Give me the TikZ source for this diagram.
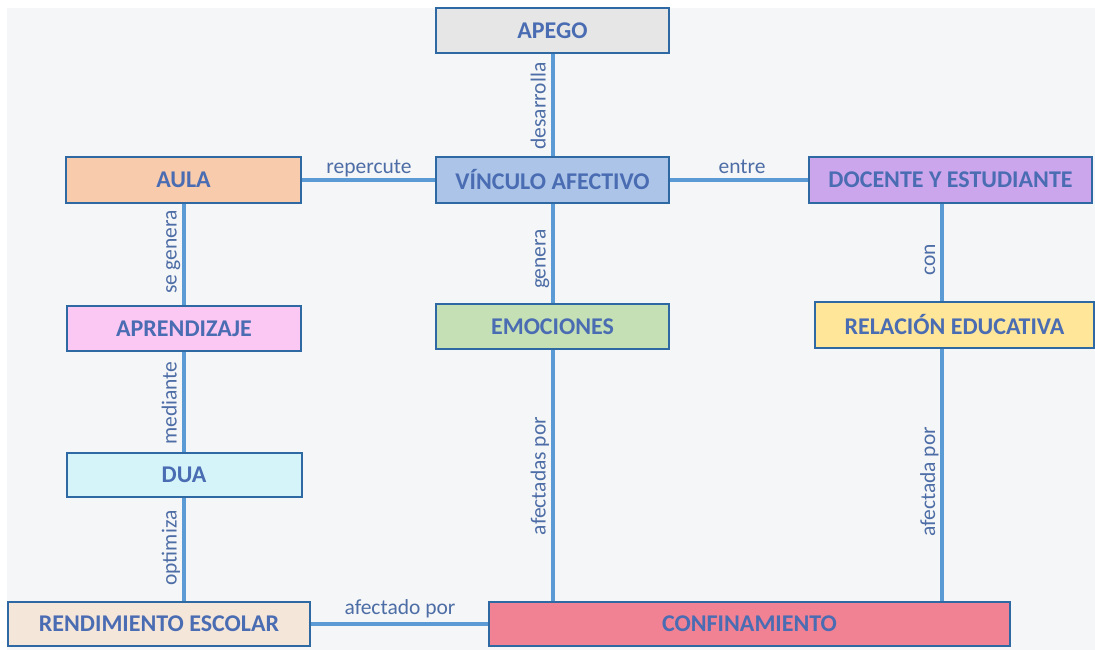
\documentclass[tikz,border=0pt]{standalone}
\usepackage{fontspec}
\setmainfont{Carlito}
\definecolor{bgc}{HTML}{F5F6F7}
\definecolor{bord}{HTML}{2F69A3}
\definecolor{conn}{HTML}{5B9BD5}
\definecolor{txtc}{HTML}{4A6CB2}
\definecolor{labc}{HTML}{4D6DA6}
\definecolor{cApego}{HTML}{E6E6E6}
\definecolor{cVinculo}{HTML}{ABC4E8}
\definecolor{cAula}{HTML}{F8CBAD}
\definecolor{cDocente}{HTML}{CBA6EC}
\definecolor{cAprend}{HTML}{FAC8F2}
\definecolor{cEmo}{HTML}{C5E0B4}
\definecolor{cRel}{HTML}{FFE699}
\definecolor{cDua}{HTML}{D4F4FA}
\definecolor{cRend}{HTML}{F5E6DA}
\definecolor{cConf}{HTML}{F08294}
\begin{document}
\begin{tikzpicture}[x=1pt,y=-1pt,
  box/.style={draw=bord, line width=2pt, inner sep=0pt, text=txtc,
    font=\fontsize{24}{27}\selectfont\bfseries, anchor=center},
  link/.style={draw=conn, line width=4pt},
  vlab/.style={rotate=90, anchor=base, inner sep=0pt, text=labc,
    font=\fontsize{21.5}{25}\selectfont},
  hlab/.style={anchor=base, inner sep=0pt, text=labc,
    font=\fontsize{21.5}{25}\selectfont}]
\useasboundingbox (0,0) rectangle (1095,650);
\fill[white] (0,0) rectangle (1095,650);
\fill[bgc] (7,8) rectangle (1095,650);
\coordinate (xr) at (942,0);
\node[box, fill=cApego, minimum width=233pt, minimum height=45pt] (apego) at (552.5,30.5) {APEGO};
\node[box, fill=cVinculo, minimum width=233pt, minimum height=46pt] (vinculo) at (552.5,180) {VÍNCULO AFECTIVO};
\node[box, fill=cAula, minimum width=235pt, minimum height=46pt] (aula) at (183.5,180) {AULA};
\node[box, fill=cDocente, minimum width=283pt, minimum height=46pt] (docente) at (950.5,180) {DOCENTE Y ESTUDIANTE};
\node[box, fill=cAprend, minimum width=234pt, minimum height=45pt] (aprend) at (184,328.5) {APRENDIZAJE};
\node[box, fill=cEmo, minimum width=233pt, minimum height=45pt] (emo) at (552.5,326.5) {EMOCIONES};
\node[box, fill=cRel, minimum width=279pt, minimum height=46pt] (rel) at (954.5,325) {RELACIÓN EDUCATIVA};
\node[box, fill=cDua, minimum width=235pt, minimum height=44pt] (dua) at (184,475) {DUA};
\node[box, fill=cRend, minimum width=302pt, minimum height=44pt] (rend) at (159,624) {RENDIMIENTO ESCOLAR};
\node[box, fill=cConf, minimum width=521pt, minimum height=44pt] (conf) at (749.5,624) {CONFINAMIENTO};
% connectors
\draw[link] (apego.south) -- (vinculo.north);
\draw[link] (aula.east) -- (vinculo.west);
\draw[link] (vinculo.east) -- (docente.west);
\draw[link] (vinculo.south) -- (emo.north);
\draw[link] (aula.south) -- (aula.south |- aprend.north);
\draw[link] (aprend.south) -- (aprend.south |- dua.north);
\draw[link] (dua.south) -- (dua.south |- rend.north);
\draw[link] (rend.east) -- (conf.west);
\draw[link] (emo.south) -- (emo.south |- conf.north);
\draw[link] (docente.south -| xr) -- (rel.north -| xr);
\draw[link] (rel.south -| xr) -- (conf.north -| xr);
% labels
\node[vlab] (l1) at (545.5,106) {desarrolla};
\node[vlab] (l2) at (545.5,259) {genera};
\node[vlab] (l3) at (176.5,252) {se genera};
\node[vlab] (l4) at (176.5,403) {mediante};
\node[vlab] (l5) at (176.5,548) {optimiza};
\node[vlab] (l6) at (545.5,476) {afectadas por};
\node[vlab] (l7) at (935,260) {con};
\node[vlab] (l8) at (935,482) {afectada por};
\node[hlab] (l9) at (369,173) {repercute};
\node[hlab] (l10) at (742,173) {entre};
\node[hlab] (l11) at (400,614) {afectado por};
\end{tikzpicture}
\end{document}
